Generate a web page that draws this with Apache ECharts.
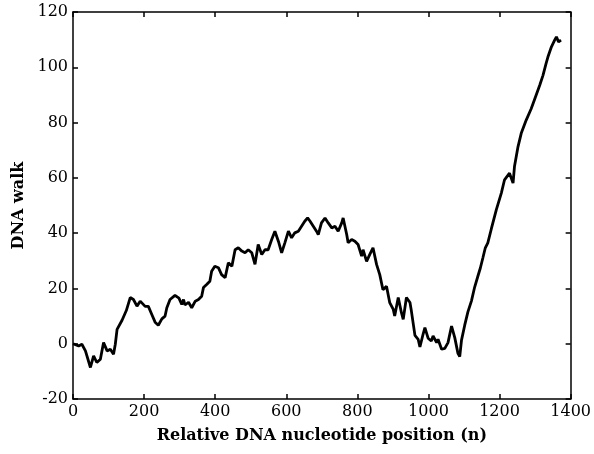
<!DOCTYPE html>
<html>
<head>
<meta charset="utf-8">
<script src="https://cdn.jsdelivr.net/npm/echarts@6/dist/echarts.min.js"></script>
<style>html,body{margin:0;padding:0;background:#fff}#c{width:594px;height:454px}</style>
</head>
<body>
<div id="c"></div>
<script>
const positions = [0,4,16,25,35,49,58,67,77,86,96,105,114,119,124,138,150,161,170,180,189,194,203,212,222,231,240,250,259,264,273,287,298,306,311,315,325,334,344,353,362,367,376,385,390,399,409,418,428,437,447,456,465,475,484,493,503,512,521,531,540,549,559,568,578,587,596,606,615,624,634,643,652,660,667,676,685,690,699,709,718,728,737,746,756,760,770,774,784,793,802,812,816,826,835,844,854,863,872,882,891,901,905,915,924,929,938,948,952,962,971,976,985,990,999,1004,1008,1013,1018,1023,1027,1037,1046,1055,1065,1074,1083,1088,1093,1102,1111,1121,1130,1139,1146,1153,1160,1167,1177,1191,1205,1214,1228,1238,1242,1252,1261,1275,1289,1299,1313,1322,1331,1336,1346,1355,1360,1366,1373];
const walk = [0,0.4,-0.8,-0.2,-2.6,-8.6,-4.4,-6.8,-5.6,0.4,-2.6,-2,-3.8,-0.2,5.2,8.5,12,16.7,16,13.6,15.4,14.9,13.5,13.5,10.5,7.8,6.7,9,10,13,16,17.5,16.5,14.2,16,14,15,13,15.4,16,17.2,20.3,21.4,22.6,26.2,28,27.5,25,23.9,29.3,28,34,34.7,33.5,32.9,34,32.9,28.7,35.9,32.3,34,34,37.7,40.7,37,32.9,36.5,40.7,38.3,40.1,40.7,42.5,44.3,45.5,44.3,42.5,40.7,39.5,43.7,45.5,43.7,41.9,42.5,40.7,43.7,45.5,39.5,36.5,37.7,37.1,35.9,31.7,34,29.8,32.3,34.7,28.7,25,19.5,20.8,14.9,12.4,10,16.7,11.2,8.8,16.7,14.9,11.8,3,1.6,-1.2,3.5,5.8,2,1.6,1,2.8,3,0.4,1.6,-2,-1.7,0.4,6.4,2.2,-3.5,-4.7,1.3,6.7,11.5,15.5,20.5,24.4,27.4,31,34.7,36.5,41.6,48.5,54.5,59.3,61.7,58.1,64.1,71.3,76.1,80.9,85,88.5,93.5,97,101.4,103.7,107.4,109.8,111,109.2,109.8];
const xTicks = [0,200,400,600,800,1000,1200,1400];
const yTicks = [-20,0,20,40,60,80,100,120];

const chart = echarts.init(document.getElementById('c'));
const font = 'DejaVu Serif';
const lineStyle = {color:'#000', width:1.5};
const axLine = {show:true, onZero:false, lineStyle};
const tick = {show:true, inside:true, length:5, lineStyle:{color:'#000', width:1.5}};
const hidden = {show:false};
const plain = v => String(v);
chart.setOption({
  animation:false,
  backgroundColor:'#fff',
  grid:{left:73, right:23, top:12, bottom:55},
  xAxis:[{
    type:'value', min:xTicks[0], max:xTicks[xTicks.length-1], interval:200,
    axisLine:axLine, axisTick:tick, splitLine:hidden,
    axisLabel:{color:'#000', fontFamily:font, fontSize:16, margin:5, formatter:plain},
    name:'Relative DNA nucleotide position (n)', nameLocation:'middle', nameGap:29,
    nameTextStyle:{color:'#000', fontFamily:font, fontSize:16, fontWeight:'bold'}
  },{
    type:'value', position:'top', min:xTicks[0], max:xTicks[xTicks.length-1], interval:200,
    axisLine:axLine, axisTick:tick, axisLabel:hidden, splitLine:hidden
  }],
  yAxis:[{
    type:'value', min:yTicks[0], max:yTicks[yTicks.length-1], interval:20,
    axisLine:axLine, axisTick:tick, splitLine:hidden,
    axisLabel:{color:'#000', fontFamily:font, fontSize:16, margin:5, formatter:plain},
    name:'DNA walk', nameLocation:'middle', nameGap:41,
    nameTextStyle:{color:'#000', fontFamily:font, fontSize:16, fontWeight:'bold'}
  },{
    type:'value', position:'right', min:yTicks[0], max:yTicks[yTicks.length-1], interval:20,
    axisLine:axLine, axisTick:tick, axisLabel:hidden, splitLine:hidden
  }],
  series:[{
    type:'line', xAxisIndex:0, yAxisIndex:0,
    data: positions.map((p,i)=>[p, walk[i]]),
    showSymbol:false, symbol:'none',
    lineStyle:{color:'#000', width:2.8}
  },{
    type:'line', xAxisIndex:1, yAxisIndex:1, data:[], symbol:'none'
  }]
});
</script>
</body>
</html>
